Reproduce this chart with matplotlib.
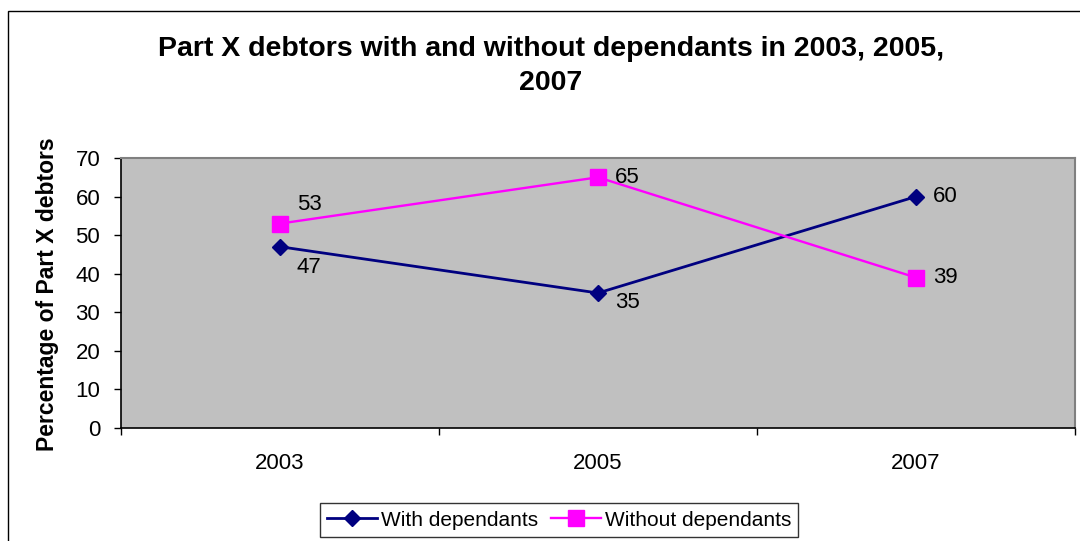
"""
Line chart: share of Part X debtors with and without dependants, 2003-2007.
Excel-style look (grey plot area, category ticks between years).
"""

import matplotlib
matplotlib.use("Agg")
import matplotlib.pyplot as plt
from matplotlib.patches import Rectangle

plt.rcParams["font.family"] = ["Liberation Sans", "DejaVu Sans"]

YEARS = ["2003", "2005", "2007"]
WITH_DEP = [47, 35, 60]
WITHOUT_DEP = [53, 65, 39]
Y_TICKS = [0, 10, 20, 30, 40, 50, 60, 70]

NAVY = "#000080"
MAGENTA = "#FF00FF"
PLOT_BG = "#C0C0C0"

fig = plt.figure(figsize=(10.8, 5.41), dpi=100)
ax = fig.add_axes([121 / 1080, 113 / 541, 954 / 1080, 270 / 541])
ax.set_facecolor(PLOT_BG)

# outer chart frame (cut off on the right and bottom like the original)
fig.patches.append(Rectangle((8 / 1080, -0.2), 2.0, 1.2 - 11 / 541,
                             transform=fig.transFigure, fill=False,
                             edgecolor="black", linewidth=1.0))

xs = [i + 0.5 for i in range(len(YEARS))]
ax.plot(xs, WITH_DEP, color=NAVY, linewidth=2, marker="D", markersize=8.5,
        markerfacecolor=NAVY, markeredgecolor=NAVY, label="With dependants")
ax.plot(xs, WITHOUT_DEP, color=MAGENTA, linewidth=1.7, marker="s", markersize=11,
        markerfacecolor=MAGENTA, markeredgecolor=MAGENTA, label="Without dependants")

# data labels (Excel puts them to the right of the point)
offsets_with = [(12, -15), (12, -6.5), (12, 0)]
offsets_without = [(12, 14), (12, 0), (12, 0)]
for x, v, off in zip(xs, WITH_DEP, offsets_with):
    ax.annotate(str(v), (x, v), xytext=off, textcoords="offset points",
                ha="left", va="center", fontsize=16)
for x, v, off in zip(xs, WITHOUT_DEP, offsets_without):
    ax.annotate(str(v), (x, v), xytext=off, textcoords="offset points",
                ha="left", va="center", fontsize=16)

ax.set_xlim(0, len(YEARS))
ax.set_ylim(0, 70)
ax.set_yticks(Y_TICKS)
ax.tick_params(axis="y", direction="out", length=5, width=1, pad=10, labelsize=16)

ax.set_xticks(range(len(YEARS) + 1))
ax.set_xticklabels([])
ax.set_xticks(xs, minor=True)
ax.set_xticklabels(YEARS, minor=True)
ax.tick_params(axis="x", which="major", direction="out", length=5, width=1)
ax.tick_params(axis="x", which="minor", length=0, pad=18, labelsize=16)

for side in ["top", "right"]:
    ax.spines[side].set_color("#808080")
    ax.spines[side].set_linewidth(1.5)
for side in ["left", "bottom"]:
    ax.spines[side].set_color("black")
    ax.spines[side].set_linewidth(1.2)

fig.text(551 / 1080, 1 - 66 / 541,
         "Part X debtors with and without dependants in 2003, 2005,\n2007",
         ha="center", va="center", fontsize=20.5, fontweight="bold", linespacing=1.43)

fig.text(48 / 1080, 1 - 294 / 541, "Percentage of Part X debtors",
         rotation=90, ha="center", va="center", fontsize=16.5, fontweight="bold")

leg = fig.legend(loc="center", bbox_to_anchor=(559 / 1080, 21 / 541), ncol=2,
                 fontsize=15, frameon=True, fancybox=False, edgecolor="black",
                 handlelength=2.4, handletextpad=0.2, columnspacing=0.6,
                 borderpad=0.35)
leg.get_frame().set_linewidth(1.0)

fig.savefig("out.png", dpi=100)
